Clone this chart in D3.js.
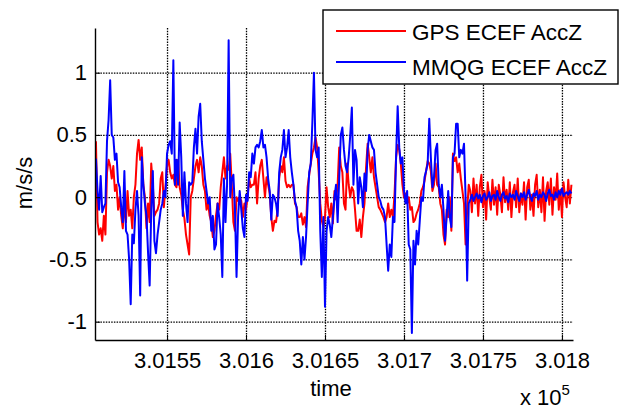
<!DOCTYPE html>
<html>
<head>
<meta charset="utf-8">
<script src="https://cdn.jsdelivr.net/npm/d3@7"></script>
<style>
  html, body { margin: 0; padding: 0; background: #fff; }
  svg { display: block; font-family: "Liberation Sans", Arial, sans-serif; }
</style>
</head>
<body>
<svg id="chart" width="620" height="410"></svg>
<script>
// Sample times: one sample per second starting here
const timeStart = 301505;
const timeStep = 1;

// GPS-derived vertical (ECEF Z) acceleration, m/s/s
const gpsAccZ = [
  0.45, -0.2, -0.3, -0.25, -0.35, -0.15, -0.3, 0.2, 0.3, 0.25, 0.15, 0.25, 0.05, 0.1, -0.1, 0.0, -0.15, -0.25, -0.05, -0.2,
  0.05, -0.15, -0.1, -0.25, 0.0, 0.1, 0.35, 0.46, 0.3, 0.4, 0.1, 0.0, -0.25, -0.05, -0.2, 0.27, 0.1, -0.15,
  -0.12, -0.1, -0.05, 0.15, 0.2, -0.08, 0.08, 0.25, 0.3, 0.2, 0.15, 0.18, 0.1, 0.08, 0.3, 0.08, 0.02, -0.1, -0.17, -0.3,
  -0.38, -0.46, 0.0, 0.05, 0.15, 0.25, 0.3, 0.2, 0.32, 0.25, 0.1, 0.05, -0.1, -0.05, -0.15, -0.2, -0.32, -0.27,
  -0.15, -0.05, -0.1, 0.08, 0.2, 0.32, 0.15, 0.25, 0.22, 0.35, 0.1, -0.2, -0.27, 0.0, -0.03, 0.0, -0.03, -0.16, -0.05, -0.1,
  0.0, 0.15, 0.08, 0.1, 0.1, 0.2, -0.05, 0.15, 0.25, 0.3, 0.15, 0.0, 0.16, 0.1, 0.03, -0.16, -0.27, -0.19,
  -0.2, -0.1, 0.15, 0.25, 0.2, 0.32, 0.13, 0.08, 0.1, 0.08, 0.1, 0.1, -0.05, -0.08, -0.16, -0.16, -0.13, -0.22, -0.16, -0.24,
  0.08, 0.18, 0.27, 0.35, 0.4, 0.48, 0.4, 0.2, -0.05, -0.19, -0.24, -0.16, 0.08, -0.08, -0.16, -0.05, -0.21, 0.05,
  -0.02, 0.1, 0.4, 0.25, 0.2, -0.05, -0.1, 0.27, 0.1, 0.0, 0.08, 0.05, -0.1, -0.27, -0.27, -0.18, -0.32, -0.16, -0.05, 0.24,
  0.43, 0.32, 0.2, 0.32, 0.16, 0.08, 0.0, -0.08, -0.1, -0.13, -0.16, -0.2, -0.16, -0.05, -0.16, -0.1, -0.16, 0.02,
  0.32, 0.42, 0.38, 0.27, 0.1, 0.0, 0.03, -0.05, 0.0, -0.1, -0.08, -0.2, -0.18, -0.13, -0.1, -0.05, 0.05, 0.08, 0.13, 0.21,
  0.29, 0.27, 0.21, 0.05, 0.1, 0.27, 0.1, 0.08, -0.05, -0.1, -0.3, -0.38, -0.1, -0.16, 0.0, -0.27, 0.35, 0.29, 0.32, 0.2,
  0.27, 0.15, 0.05, -0.05, -0.38, -0.1, 0.1,
  0.05, -0.12, 0.15, -0.05, 0.1, -0.15, 0.08, 0.18, -0.08, 0.05, -0.18, 0.12, 0.0, -0.1, 0.14, -0.06, 0.08, -0.14, 0.1, 0.02,
  -0.12, 0.16, -0.04, 0.06, -0.1, 0.12, -0.16, 0.04, 0.1, -0.08, 0.15, -0.12, 0.03, -0.06, 0.12, -0.18, 0.08, 0.14, -0.1, 0.02,
  -0.15, 0.1, 0.18, -0.08, 0.06, -0.12, 0.16, -0.19, 0.05, 0.12, -0.06, 0.15, -0.14, 0.08, -0.02, 0.19, -0.1, 0.06, -0.16, 0.12,
  0.0, -0.08, 0.14, -0.05, 0.1
];

// MMQG-estimated vertical (ECEF Z) acceleration, m/s/s
const mmqgAccZ = [
  0.31, 0.05, -0.1, 0.17, -0.12, -0.08, -0.05, 0.45, 0.62, 0.94, 0.5, 0.48, 0.3, 0.35, 0.12, 0.08, -0.08, -0.2, 0.21, -0.27,
  -0.3, -0.5, -0.86, -0.3, -0.37, -0.1, 0.05, -0.15, -0.79, 0.32, 0.1, -0.05, -0.15, -0.45, -0.71, -0.1, 0.21, -0.35,
  -0.45, -0.3, -0.2, -0.1, -0.05, 0.05, 0.0, 0.35, 0.42, 0.45, 0.35, 1.1, 0.1, 0.3, 0.1, 0.6, 0.32, -0.15, 0.2, -0.05,
  -0.2, 0.12, 0.1, 0.12, 0.4, 0.55, 0.35, 0.65, 0.75, 0.45, 0.3, 0.15, 0.05, -0.05, 0.0, -0.27, -0.15, -0.42,
  -0.38, -0.05, -0.16, -0.3, -0.64, 0.15, -0.2, 0.1, 1.26, 0.0, 0.15, 0.18, -0.1, -0.64, -0.15, 0.05, -0.1, -0.25, -0.32, 0.02,
  -0.03, 0.2, 0.16, 0.35, 0.27, 0.4, 0.42, 0.4, 0.45, 0.54, 0.4, 0.42, 0.32, 0.15, 0.05, -0.18, 0.02, 0.0,
  -0.05, -0.15, 0.2, 0.32, 0.38, 0.54, 0.32, 0.4, 0.54, 0.32, 0.2, 0.1, -0.03, -0.08, -0.27, -0.35, -0.54, -0.32, -0.5, -0.32,
  -0.05, 0.2, 0.27, 0.6, 1.0, 0.38, 0.32, 0.4, -0.27, -0.64, -0.16, -0.88, -0.27, -0.16, -0.22, -0.32, -0.16, 0.0,
  0.1, -0.2, 0.15, 0.5, 0.56, 0.38, 0.25, 0.2, 0.32, 0.5, 0.72, 0.1, 0.38, 0.3, -0.05, 0.16, 0.08, -0.08, 0.19, 0.05,
  0.38, 0.5, 0.45, 0.4, 0.38, 0.2, 0.1, 0.0, -0.03, -0.08, -0.1, -0.16, -0.38, -0.59, -0.38, -0.48, -0.16, -0.2,
  0.32, 0.73, 0.4, 0.27, 0.32, 0.05, -0.05, 0.05, -0.38, -0.42, -1.09, -0.35, -0.54, -0.27, -0.38, -0.19, 0.0, -0.03, 0.16, 0.21,
  0.27, 0.63, 0.32, 0.08, 0.16, 0.38, 0.43, 0.1, 0.0, 0.1, -0.1, -0.35, -0.16, 0.05, -0.16, -0.24, 0.32, 0.35, 0.59, 0.59,
  0.32, 0.38, 0.35, 0.43, 0.0, -0.67, -0.05,
  -0.02, 0.02, -0.03, 0.0, 0.03, -0.01, 0.02, -0.04, 0.01, 0.03, -0.02, 0.0, 0.04, -0.03, 0.01, 0.02, -0.02, 0.05, 0.0, -0.03,
  0.02, 0.04, -0.01, 0.01, -0.04, 0.03, 0.0, 0.02, -0.02, 0.05, 0.01, -0.03, 0.03, 0.0, 0.04, -0.02, 0.02, 0.06, 0.0, -0.03,
  0.03, 0.01, 0.05, -0.02, 0.02, 0.0, 0.04, 0.02, -0.03, 0.03, 0.06, 0.01, 0.02, -0.02, 0.04, 0.0, 0.05, 0.02, 0.07, 0.01,
  0.03, 0.04, 0.02, 0.05, 0.03
];

// Axis ticks (time axis is shown in units of 10^5 s)
const xTickValues = [301550, 301600, 301650, 301700, 301750, 301800];
const xTickLabels = ["3.0155", "3.016", "3.0165", "3.017", "3.0175", "3.018"];
const yTickValues = [-1, -0.5, 0, 0.5, 1];
const yTickLabels = ["-1", "-0.5", "0", "0.5", "1"];

const seriesNames = ["GPS ECEF AccZ", "MMQG ECEF AccZ"];
const seriesColors = ["#ff0000", "#0000ff"];

const svg = d3.select("#chart");
const plot = { left: 95, right: 573, top: 28, bottom: 340 };

const x = d3.scaleLinear().domain([301504.4, 301807]).range([plot.left, plot.right]);
const y = d3.scaleLinear().domain([-1.147, 1.359]).range([plot.bottom, plot.top]);

svg.append("defs").append("clipPath").attr("id", "plot-clip")
  .append("rect")
  .attr("x", plot.left).attr("y", plot.top)
  .attr("width", plot.right - plot.left).attr("height", plot.bottom - plot.top);

// Dotted grid
const gridX = svg.append("g")
  .attr("transform", `translate(0,${plot.bottom})`)
  .call(d3.axisBottom(x).tickValues(xTickValues).tickSize(-(plot.bottom - plot.top)).tickFormat(""));
const gridY = svg.append("g")
  .attr("transform", `translate(${plot.left},0)`)
  .call(d3.axisLeft(y).tickValues(yTickValues).tickSize(-(plot.right - plot.left)).tickFormat(""));
[gridX, gridY].forEach(g => {
  g.select(".domain").remove();
  g.selectAll(".tick line")
    .attr("stroke", "#000")
    .attr("stroke-width", 1.3)
    .attr("stroke-dasharray", "1.5,1.2");
});

// Series lines
const series = [gpsAccZ, mmqgAccZ];
const line = d3.line()
  .x((d, i) => x(timeStart + i * timeStep))
  .y(d => y(d));

const lines = svg.append("g").attr("clip-path", "url(#plot-clip)");
series.forEach((vals, k) => {
  lines.append("path")
    .datum(vals)
    .attr("fill", "none")
    .attr("stroke", seriesColors[k])
    .attr("stroke-width", 2)
    .attr("stroke-linejoin", "round")
    .attr("d", line);
});

// Axes (ticks point inward)
const xAxis = svg.append("g")
  .attr("transform", `translate(0,${plot.bottom})`)
  .call(d3.axisBottom(x).tickValues(xTickValues)
    .tickFormat((d, i) => xTickLabels[i])
    .tickSizeInner(-5).tickSizeOuter(0).tickPadding(12));
const yAxis = svg.append("g")
  .attr("transform", `translate(${plot.left},0)`)
  .call(d3.axisLeft(y).tickValues(yTickValues)
    .tickFormat((d, i) => yTickLabels[i])
    .tickSizeInner(-5).tickSizeOuter(0).tickPadding(8));
[xAxis, yAxis].forEach(g => {
  g.select(".domain").attr("stroke", "#000").attr("stroke-width", 1.4);
  g.selectAll(".tick line").attr("stroke", "#000").attr("stroke-width", 1);
  g.selectAll(".tick text")
    .attr("fill", "#000")
    .style("font-family", "'Liberation Sans', Arial, sans-serif")
    .style("font-size", "22px");
});

// Axis titles
svg.append("text")
  .attr("x", 331).attr("y", 396)
  .attr("text-anchor", "middle")
  .style("font-size", "22px")
  .text("time");

svg.append("text")
  .attr("transform", "translate(32,183) rotate(-90)")
  .attr("text-anchor", "middle")
  .style("font-size", "22px")
  .text("m/s/s");

const expo = svg.append("text")
  .attr("x", 520).attr("y", 405)
  .style("font-size", "22px");
expo.append("tspan").text("x 10");
expo.append("tspan")
  .attr("dy", -10)
  .style("font-size", "15px")
  .text("5");

// Legend
const legend = svg.append("g");
legend.append("rect")
  .attr("x", 323).attr("y", 10)
  .attr("width", 295).attr("height", 74)
  .attr("fill", "#fff")
  .attr("stroke", "#000")
  .attr("stroke-width", 1.4);
const legendRows = [{ ly: 31, ty: 39.5 }, { ly: 62, ty: 74.5 }];
seriesNames.forEach((name, k) => {
  legend.append("line")
    .attr("x1", 336).attr("x2", 406)
    .attr("y1", legendRows[k].ly).attr("y2", legendRows[k].ly)
    .attr("stroke", seriesColors[k])
    .attr("stroke-width", 2);
  legend.append("text")
    .attr("x", 412).attr("y", legendRows[k].ty)
    .style("font-size", "22.5px")
    .text(name);
});
</script>
</body>
</html>
